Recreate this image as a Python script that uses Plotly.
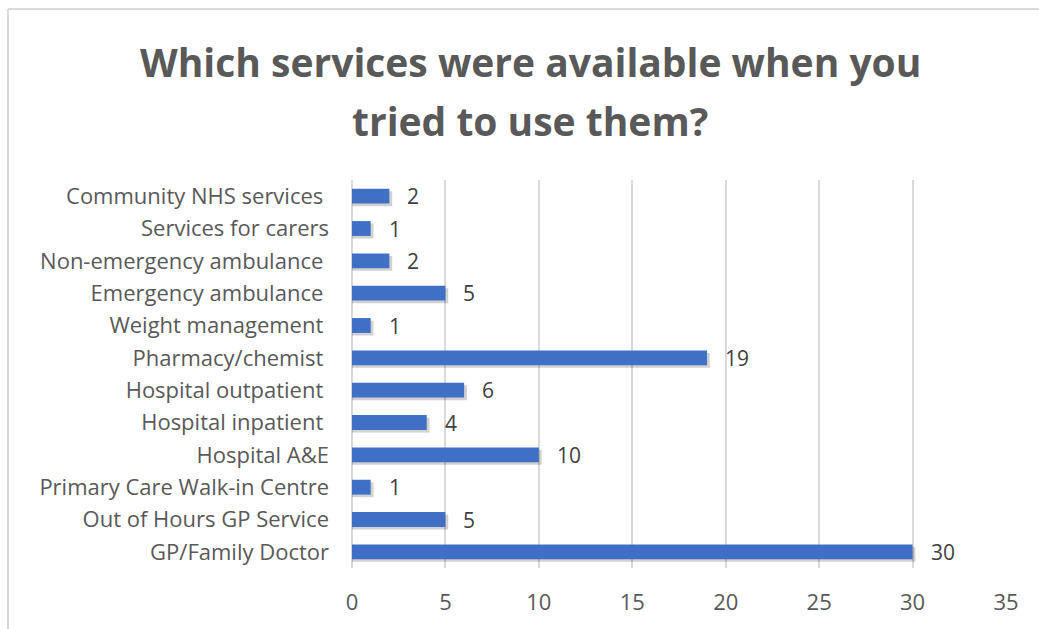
import plotly.graph_objects as go

# Services listed bottom-to-top as they appear on the category axis
services = [
    "GP/Family Doctor",
    "Out of Hours GP Service",
    "Primary Care Walk-in Centre",
    "Hospital A&E",
    "Hospital inpatient ",
    "Hospital outpatient ",
    "Pharmacy/chemist ",
    "Weight management ",
    "Emergency ambulance ",
    "Non-emergency ambulance ",
    "Services for carers",
    "Community NHS services ",
]
responses = [30, 5, 1, 10, 4, 6, 19, 1, 5, 2, 1, 2]
x_ticks = [0, 5, 10, 15, 20, 25, 30, 35]

title_lines = ["Which services were available when you", "tried to use them?"]

text_grey = "#595959"
label_grey = "#404040"
bar_blue = "#4070C6"
grid_grey = "#d9d9d9"
font_family = "Open Sans, sans-serif"

# pixel geometry of the plotting area
W, H = 1039, 629
L, R, T, B = 352, 33, 180, 61
PW, PH = W - L - R, H - T - B


def px_x(px):
    return (px - L) / PW


def px_y(py):
    return 1 - (py - T) / PH


bar_w = 0.46

fig = go.Figure()

# soft drop shadow under each bar
fig.add_trace(
    go.Bar(
        x=[v + 0.15 for v in responses],
        y=services,
        orientation="h",
        width=bar_w,
        offset=-bar_w / 2 - 0.08,
        marker=dict(color="rgba(0,0,0,0.18)", line=dict(width=0)),
        hoverinfo="skip",
    )
)

fig.add_trace(
    go.Bar(
        x=responses,
        y=services,
        orientation="h",
        width=bar_w,
        offset=-bar_w / 2,
        marker=dict(color=bar_blue, line=dict(width=0)),
        hoverinfo="x+y",
    )
)

annotations = []
for v, s in zip(responses, services):
    annotations.append(
        dict(
            x=v, y=s, xref="x", yref="y",
            text=str(v), showarrow=False,
            xanchor="left", yanchor="middle", xshift=16,
            font=dict(family=font_family, size=21, color=label_grey),
        )
    )

title_y_px = [62, 120]
for line, ypx in zip(title_lines, title_y_px):
    annotations.append(
        dict(
            x=px_x(530), y=px_y(ypx), xref="paper", yref="paper",
            text="<b>" + line + "</b>", showarrow=False,
            xanchor="center", yanchor="middle",
            font=dict(family=font_family, size=39, color=text_grey),
        )
    )

tick_text = [s.rstrip() + ("\u00a0" if s.endswith(" ") else "") for s in services]

fig.update_layout(
    width=W,
    height=H,
    margin=dict(l=L, r=R, t=T, b=B),
    paper_bgcolor="white",
    plot_bgcolor="white",
    barmode="overlay",
    showlegend=False,
    annotations=annotations,
    xaxis=dict(
        range=[0, 35],
        tickvals=x_ticks,
        ticktext=[str(t) for t in x_ticks],
        showgrid=True,
        gridcolor=grid_grey,
        gridwidth=2,
        zeroline=True,
        zerolinecolor=grid_grey,
        zerolinewidth=2,
        showline=False,
        ticks="",
        ticklabelstandoff=19,
        tickfont=dict(family=font_family, size=22, color=text_grey),
        fixedrange=True,
    ),
    yaxis=dict(
        categoryorder="array",
        categoryarray=services,
        tickvals=services,
        ticktext=tick_text,
        showgrid=False,
        showline=False,
        ticks="",
        ticklabelstandoff=22,
        tickfont=dict(family=font_family, size=22, color=text_grey),
        fixedrange=True,
    ),
    shapes=[
        dict(
            type="line", xref="paper", yref="paper",
            x0=px_x(8), x1=px_x(W + 5), y0=px_y(9), y1=px_y(9),
            line=dict(color=grid_grey, width=2),
        ),
        dict(
            type="line", xref="paper", yref="paper",
            x0=px_x(8), x1=px_x(8), y0=px_y(H + 5), y1=px_y(9),
            line=dict(color=grid_grey, width=2),
        ),
    ],
)

fig.write_html("out.html")
